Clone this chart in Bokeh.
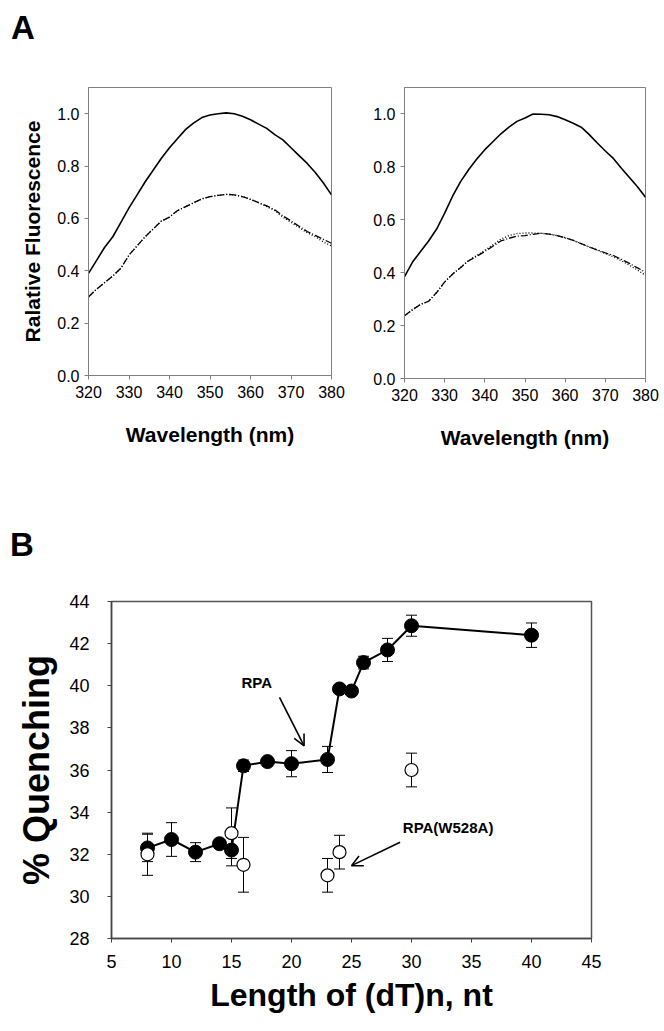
from bokeh.plotting import figure
from bokeh.layouts import column, row
from bokeh.models import (Range1d, FixedTicker, NumeralTickFormatter, Whisker, TeeHead,
                          ColumnDataSource, Label, Arrow, OpenHead, Div)
from bokeh.embed import file_html
from bokeh.resources import INLINE

# ---------------- Panel A data (relative fluorescence spectra) ----------------
wavelength = list(range(320, 381, 2))

a1_solid = [0.39, 0.44, 0.49, 0.53, 0.585, 0.64, 0.69, 0.74, 0.785, 0.83, 0.87,
            0.905, 0.94, 0.965, 0.985, 0.995, 1.0, 1.003, 1.0, 0.99, 0.977,
            0.96, 0.944, 0.92, 0.90, 0.87, 0.84, 0.81, 0.775, 0.735, 0.69]
a1_dash = [0.30, 0.33, 0.355, 0.38, 0.41, 0.46, 0.495, 0.53, 0.56, 0.59, 0.605,
           0.63, 0.645, 0.66, 0.675, 0.683, 0.688, 0.692, 0.69, 0.683, 0.673,
           0.66, 0.648, 0.633, 0.61, 0.59, 0.57, 0.55, 0.535, 0.52, 0.505]
a1_dot = [0.30, 0.33, 0.355, 0.38, 0.41, 0.46, 0.495, 0.53, 0.56, 0.59, 0.605,
          0.63, 0.645, 0.66, 0.675, 0.683, 0.688, 0.692, 0.69, 0.683, 0.673,
          0.66, 0.645, 0.63, 0.605, 0.585, 0.565, 0.545, 0.53, 0.51, 0.495]

a2_solid = [0.385, 0.44, 0.48, 0.52, 0.565, 0.625, 0.69, 0.745, 0.79, 0.83, 0.865,
            0.895, 0.925, 0.95, 0.972, 0.985, 1.0, 0.999, 0.997, 0.99, 0.978,
            0.965, 0.95, 0.922, 0.89, 0.86, 0.832, 0.795, 0.76, 0.725, 0.685]
a2_dash = [0.237, 0.26, 0.28, 0.292, 0.325, 0.365, 0.395, 0.42, 0.445, 0.462, 0.48,
           0.50, 0.52, 0.53, 0.538, 0.54, 0.545, 0.549, 0.546, 0.54, 0.532,
           0.522, 0.51, 0.497, 0.486, 0.475, 0.465, 0.45, 0.435, 0.418, 0.402]
a2_dot = [0.237, 0.26, 0.28, 0.292, 0.325, 0.365, 0.395, 0.42, 0.447, 0.465, 0.485,
          0.505, 0.527, 0.54, 0.548, 0.55, 0.55, 0.549, 0.546, 0.54, 0.532,
          0.522, 0.51, 0.497, 0.485, 0.472, 0.46, 0.445, 0.428, 0.41, 0.39]

a_xticks = [320, 330, 340, 350, 360, 370, 380]
a_yticks = [0.0, 0.2, 0.4, 0.6, 0.8, 1.0]

# ---------------- Panel B data (% quenching vs length) ----------------
rpa_len = [8, 10, 12, 14, 15, 16, 18, 20, 23, 24, 25, 26, 28, 30, 40]
rpa_q = [32.3, 32.7, 32.1, 32.5, 32.2, 36.2, 36.4, 36.3, 36.5, 39.85, 39.75,
         41.1, 41.7, 42.85, 42.4]
rpa_err = [0.65, 0.8, 0.45, 0.2, 0.75, 0.27, 0.15, 0.62, 0.62, 0.15, 0.15,
           0.3, 0.55, 0.5, 0.58]

mut_len = [8, 15, 16, 23, 24, 30]
mut_q = [32.0, 33.0, 31.5, 31.0, 32.1, 36.0]
mut_err = [1.0, 1.2, 1.3, 0.8, 0.8, 0.8]

b_xticks = [5, 10, 15, 20, 25, 30, 35, 40, 45]
b_yticks = [28, 30, 32, 34, 36, 38, 40, 42, 44]

# annotation positions (data units)
rpa_label_xy = (17.1, 40.15)
rpa_arrow = (19.0, 39.45, 21.05, 37.15)
mut_label_xy = (33.05, 33.28)
mut_arrow = (29.05, 32.57, 25.0, 31.46)

FONT = "Liberation Sans"


def letter_div(letter, h, pad_top, pad_left):
    html = ('<div style="padding:%dpx 0 0 %dpx; font-family:\'Liberation Sans\', Arial, sans-serif; '
            'font-size:33px; font-weight:bold; line-height:33px; color:black; margin:0;">%s</div>'
            % (pad_top, pad_left, letter))
    return Div(text=html, width=664, height=h, margin=0)


def spectrum_fig(b_left, b_right, b_top, fw, fh, solid, dash, dot, ylabel):
    p = figure(frame_width=fw, frame_height=fh,
               x_range=Range1d(320, 380), y_range=Range1d(0, 1.1),
               output_backend="svg", toolbar_location=None,
               min_border_left=b_left, min_border_right=b_right,
               min_border_top=b_top, min_border_bottom=422 - b_top - fh)
    p.outline_line_color = "#808080"
    p.outline_line_width = 1
    p.grid.visible = False
    for ax in (p.xaxis[0], p.yaxis[0]):
        ax.axis_line_color = "#808080"
        ax.major_tick_line_color = "#808080"
        ax.major_tick_in = 0
        ax.major_tick_out = 4
        ax.minor_tick_line_color = None
        ax.major_label_text_font = FONT
        ax.major_label_text_font_size = "16px"
        ax.major_label_text_color = "black"
        ax.axis_label_text_font = FONT
        ax.axis_label_text_font_size = "21px"
        ax.axis_label_text_font_style = "bold"
        ax.axis_label_text_color = "black"
    p.xaxis.ticker = FixedTicker(ticks=a_xticks)
    p.yaxis.ticker = FixedTicker(ticks=a_yticks)
    p.yaxis.formatter = NumeralTickFormatter(format="0.0")
    p.xaxis.major_label_standoff = 6
    p.yaxis.major_label_standoff = 5
    p.xaxis.axis_label = "Wavelength (nm)"
    p.xaxis.axis_label_standoff = 22
    if ylabel:
        p.yaxis.axis_label = ylabel
        p.yaxis.axis_label_standoff = 10
    p.line(wavelength, dot, line_color="black", line_width=1.3, line_dash="1 2")
    p.line(wavelength, dash, line_color="black", line_width=1.3, line_dash="7 2 1 2")
    p.line(wavelength, solid, line_color="black", line_width=1.6)
    return p


pA1 = spectrum_fig(88, 39, 39, 243, 288, a1_solid, a1_dash, a1_dot, "Ralative Fluorescence")
pA2 = spectrum_fig(31, 22, 36, 241, 291, a2_solid, a2_dash, a2_dot, None)

divA = letter_div("A", 48, 11, 11)
divB = letter_div("B", 100, 58, 10)

# ---------------- Panel B ----------------
pB = figure(frame_width=480, frame_height=337,
            x_range=Range1d(5, 45), y_range=Range1d(28, 44),
            output_backend="svg", toolbar_location=None,
            min_border_left=111, min_border_right=73,
            min_border_top=31, min_border_bottom=93)
pB.outline_line_color = "#555555"
pB.outline_line_width = 1.5
pB.grid.visible = False
for ax in (pB.xaxis[0], pB.yaxis[0]):
    ax.axis_line_color = "#444444"
    ax.axis_line_width = 1.5
    ax.major_tick_line_color = "#444444"
    ax.major_tick_in = 0
    ax.major_tick_out = 4
    ax.minor_tick_line_color = None
    ax.major_label_text_font = FONT
    ax.major_label_text_font_size = "18px"
    ax.major_label_text_color = "black"
    ax.axis_label_text_font = FONT
    ax.axis_label_text_font_style = "bold"
    ax.axis_label_text_color = "black"
pB.xaxis.axis_label_text_font_size = "32px"
pB.yaxis.axis_label_text_font_size = "36px"
pB.xaxis.ticker = FixedTicker(ticks=b_xticks)
pB.yaxis.ticker = FixedTicker(ticks=b_yticks)
pB.xaxis.major_label_standoff = 12
pB.yaxis.major_label_standoff = 18
pB.xaxis.axis_label = "Length of (dT)n, nt"
pB.yaxis.axis_label = "% Quenching"
pB.xaxis.axis_label_standoff = 6
pB.yaxis.axis_label_standoff = 9

rpa_src = ColumnDataSource(dict(x=rpa_len, y=rpa_q,
                                lo=[v - e for v, e in zip(rpa_q, rpa_err)],
                                hi=[v + e for v, e in zip(rpa_q, rpa_err)]))
mut_src = ColumnDataSource(dict(x=mut_len, y=mut_q,
                                lo=[v - e for v, e in zip(mut_q, mut_err)],
                                hi=[v + e for v, e in zip(mut_q, mut_err)]))

for src in (rpa_src, mut_src):
    pB.add_layout(Whisker(source=src, base="x", lower="lo", upper="hi", dimension="height",
                          line_color="black", line_width=1, level="underlay",
                          upper_head=TeeHead(size=11, line_color="black", line_width=1),
                          lower_head=TeeHead(size=11, line_color="black", line_width=1)))

pB.line("x", "y", source=rpa_src, line_color="black", line_width=2)
pB.scatter("x", "y", source=rpa_src, size=14, marker="circle",
           fill_color="black", line_color="black")
pB.scatter("x", "y", source=mut_src, size=13, marker="circle",
           fill_color="white", line_color="black", line_width=1.2)

pB.add_layout(Label(x=rpa_label_xy[0], y=rpa_label_xy[1], text="RPA",
                    text_font=FONT, text_font_size="15px", text_font_style="bold",
                    text_align="center", text_baseline="middle", text_color="black"))
pB.add_layout(Label(x=mut_label_xy[0], y=mut_label_xy[1], text="RPA(W528A)",
                    text_font=FONT, text_font_size="15px", text_font_style="bold",
                    text_align="center", text_baseline="middle", text_color="black"))
for xs, ys, xe, ye in (rpa_arrow, mut_arrow):
    pB.add_layout(Arrow(x_start=xs, y_start=ys, x_end=xe, y_end=ye,
                        line_color="black", line_width=1.6,
                        end=OpenHead(size=11, line_color="black", line_width=1.6)))

layout = column(divA, row(pA1, pA2), divB, pB)
open("out.html", "w").write(file_html(layout, INLINE))
